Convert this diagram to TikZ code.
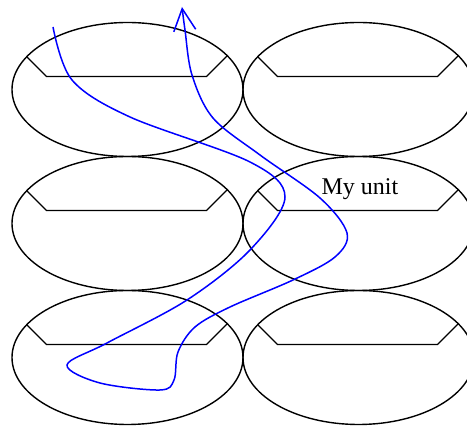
\documentclass[tikz,border=0pt]{standalone}
\usepackage{fontspec}
\setmainfont{Liberation Serif}
\usepackage{tikz}
\usetikzlibrary{arrows.meta, positioning, shapes.geometric}

\begin{document}
\begin{tikzpicture}[
    x=0.5pt, y=-0.5pt,
    unit/.style={
        ellipse,
        draw=black,
        line width=0.7pt,
        inner sep=0pt,
        minimum width=115.5pt,
        minimum height=67pt,
        path picture={
            \draw[line width=0.7pt]
                ([shift={(-106,-38)}]path picture bounding box.center)
                -- ++(25,25) -- ++(160,0) -- ++(25,-25);
        }
    },
    route/.style={
        -{Straight Barb[length=11pt, width=11pt]},
        line width=0.75pt,
        draw=blue
    }
]
\useasboundingbox (0,0) rectangle (467,426);

% Units
\node (tl) [unit] at (127.5,89.5) {};
\node (tr) [unit] at (358.5,89.5) {};
\node (ml) [unit] at (127.5,223.5) {};
\node (mr) [unit] at (358.5,223.5) {};
\node (bl) [unit] at (127.5,357.5) {};
\node (br) [unit] at (358.5,357.5) {};

\node (unitlabel) [font=\fontsize{12}{14}\selectfont] at (360,189) {My unit};

% Route
\draw [route] plot[smooth, tension=0.55] coordinates {
    (53,27) (72,80) (130,117) (250,162) (285,197) (250,250)
    (187,300) (107,343) (67,365) (100,383) (160,390) (174,380)
    (178,352) (195,327) (230,307) (293,280) (335,257) (347,233)
    (320,198) (260,155) (213,118) (192,75) (185,30) (182,7)
};

\end{tikzpicture}
\end{document}
